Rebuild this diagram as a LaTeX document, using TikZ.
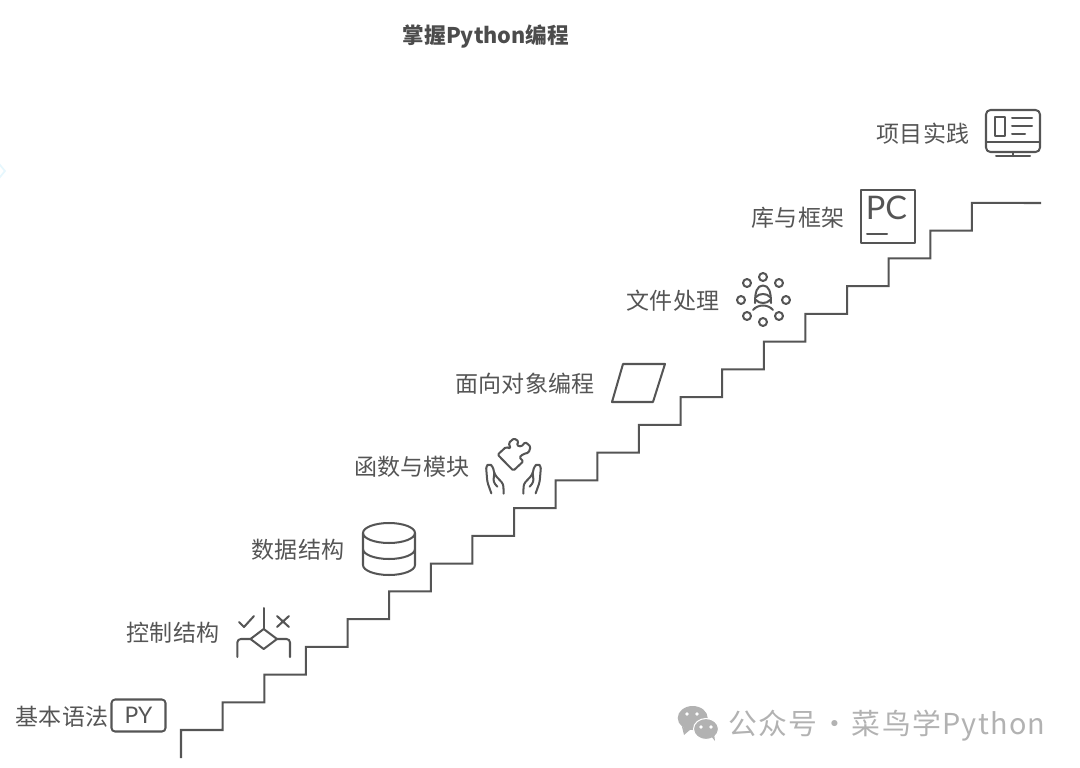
\documentclass[tikz,border=0pt]{standalone}
\usepackage{fontspec}
\setmainfont{Noto Sans CJK SC}
\newfontfamily\latinfont{Lato}
\newfontfamily\markfont[LetterSpace=4.5]{Noto Sans CJK SC}
\usepackage{xcolor}
\definecolor{inkc}{HTML}{555555}
\definecolor{markc}{HTML}{B2B2B2}
\usetikzlibrary{positioning}

\begin{document}
\begin{tikzpicture}[
    x=0.02cm, y=-0.02cm,
    lab/.style={font=\fontsize{13.1}{15}\selectfont, text=inkc, inner sep=0pt},
    ttl/.style={font=\fontsize{12.3}{15}\selectfont\bfseries, text=inkc!90!black, inner sep=0pt},
    ico/.style={draw=inkc, line width=1.15pt, line join=round, line cap=round},
    stair/.style={draw=inkc, line width=1.15pt, line join=miter},
]
\useasboundingbox (0,0) rectangle (1080,768);

% faint mark at the left edge
\draw[cyan!10, line width=1pt] (-6,171) -- (0,165) -- (5,171) -- (0,177) -- cycle;

% ===== Title =====
\node[ttl] (ti) at (486,36.5) {掌握Python编程};

% ===== Staircase =====
\draw[stair] (181,758) -- (181,730)
    foreach \i in {1,...,19} { -- ++(41.63,0) -- ++(0,-27.74) } -- (1041,203);

% ===== Labels =====
\node[lab] (jb) at (62,716.5)  {基本语法};
\node[lab] (kz) at (173,632.5) {控制结构};
\node[lab] (sj) at (298,549.5) {数据结构};
\node[lab] (hs) at (412,466.5) {函数与模块};
\node[lab] (mx) at (525,383.5) {面向对象编程};
\node[lab] (wj) at (673,300.5) {文件处理};
\node[lab] (ku) at (798,217.5) {库与框架};
\node[lab] (xm) at (923,133.5) {项目实践};

% ===== PY box =====
\node[ico, rounded corners=2pt, minimum width=1.08cm, minimum height=0.64cm, inner sep=0pt,
      font=\latinfont\fontsize{13}{14}\selectfont, text=inkc] (py) at (138.5,715.5) {PY};

% ===== Branch icon =====
\draw[ico] (263.7,608) -- (263.7,629);
\draw[ico] (263.7,629) -- (277,639) -- (263.7,649) -- (250.5,639) -- cycle;
\draw[ico, rounded corners=2pt] (250.5,639) -- (237.3,639) -- (237.3,657);
\draw[ico, rounded corners=2pt] (277,639) -- (290,639) -- (290,657);
\draw[ico] (239,622) -- (244,627) -- (254,616);
\draw[ico] (277,616) -- (289,627) (289,616) -- (277,627);

% ===== Database icon =====
\draw[ico] (389,533) ellipse [x radius=26, y radius=10];
\draw[ico] (363,533) -- (363,565) arc [start angle=180, end angle=0, x radius=26, y radius=10] -- (415,533);
\draw[ico] (363,549) arc [start angle=180, end angle=0, x radius=26, y radius=10];

% ===== Puzzle and hands =====
\begin{scope}[shift={(480,432)}, x=0.00667cm, y=-0.00667cm]
\draw[ico, rounded corners=0.8pt] (53,68) -- (78,45) -- (92,50) -- (86,33) -- (102,19) -- (116,28)
    -- (110,40) -- (124,44) -- (136,30) -- (152,44) -- (146,62) -- (130,66) -- (118,76)
    -- (130,88) -- (100,116) -- cycle;
\foreach \s/\o in {1/0, -1/201} {
  \begin{scope}[shift={(\o,0)}, x=\s*0.00667cm]
  \draw[ico, rounded corners=1.5pt] (34,184) -- (22,150) -- (18,102) -- (28,96) -- (38,102) -- (44,128)
      -- (70,156) -- (71,185);
  \draw[ico, rounded corners=1.5pt] (43,122) -- (40,150) -- (52,164);
  \end{scope}
}
\end{scope}

% ===== Parallelogram =====
\draw[ico] (623,364) -- (665,364) -- (653,402) -- (612,402) -- cycle;

% ===== Person with dots =====
\foreach \cx/\cy in {763/277, 747/283, 779/283, 741/300, 786/300, 747/316, 779/316, 763/322}
    \draw[ico] (\cx,\cy) circle [radius=4];
\draw[ico] (755,303) .. controls (755,292) and (757,285.5) .. (763,285.5) .. controls (769,285.5) and (771,292) .. (771,303);
\draw[ico] (756,297) .. controls (759,293) and (767,293) .. (770,297);
\draw[ico] (756,300) .. controls (759,304) and (767,304) .. (770,300);
\draw[ico] (753,310) .. controls (758,304) and (768,304) .. (773,310);

% ===== PC box =====
\node[ico, minimum width=1.08cm, minimum height=1.06cm, inner sep=0pt] (pcb) at (888,216.5) {};
\node[font=\latinfont\fontsize{18.5}{20}\selectfont, text=inkc, inner sep=0pt] (pct) at (886.5,207.5) {PC};
\draw[ico] (867,234) -- (887,234);

% ===== Monitor =====
\draw[ico, rounded corners=2.5pt] (986,110) rectangle (1040,152);
\draw[ico] (986,142) -- (1040,142);
\draw[ico] (1013,152) -- (1013,156);
\draw[ico] (996,156) -- (1030,156);
\draw[ico] (995,117) rectangle (1005,136);
\draw[ico] (1012,118) -- (1032,118) (1012,126) -- (1032,126) (1012,134) -- (1025,134);

% ===== Watermark =====
\fill[markc] (692.7,718) ellipse [x radius=15, y radius=12];
\fill[markc] (682,727) -- (684,735) -- (691,729) -- cycle;
\fill[markc, draw=white, line width=0.6pt] (706,729) ellipse [x radius=12.5, y radius=10.5];
\fill[markc] (711,736) -- (715,741) -- (714,733) -- cycle;
\foreach \ex/\ey/\ec in {687/714/white, 697/714/white, 701/727/white, 711/727/white}
    \fill[\ec] (\ex,\ey) circle [radius=1.8];
\node[font=\markfont\fontsize{16.4}{18}\selectfont, text=markc, inner sep=0pt, anchor=west] (wm) at (728,726)
    {公众号\hspace{0.1em}·\hspace{0.1em}菜鸟学Python};

\end{tikzpicture}
\end{document}
